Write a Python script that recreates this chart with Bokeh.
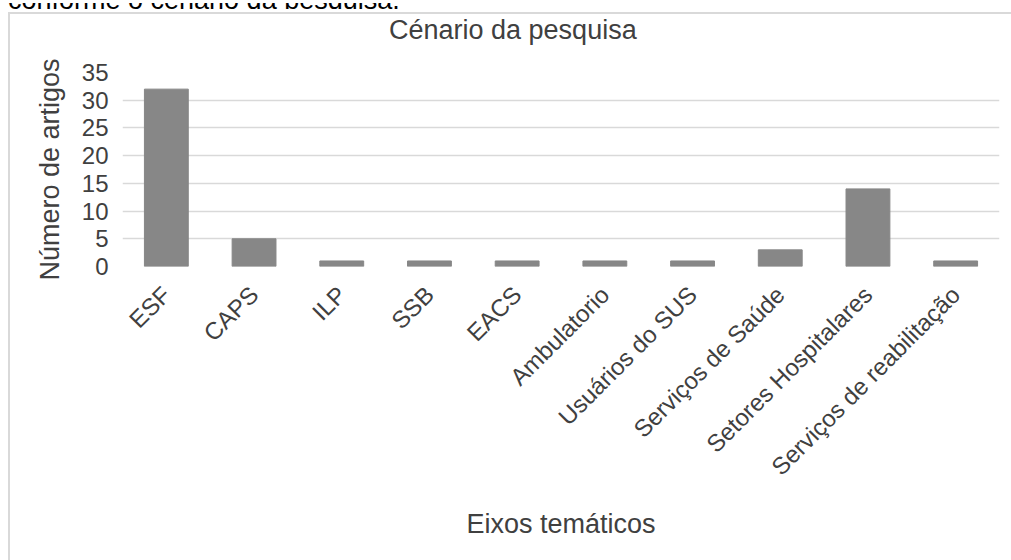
import math

from bokeh.embed import file_html
from bokeh.layouts import column
from bokeh.models import Div, FactorRange, FixedTicker, Range1d
from bokeh.plotting import figure
from bokeh.resources import INLINE

# Data: number of articles per research setting
categories = [
    "ESF",
    "CAPS",
    "ILP",
    "SSB",
    "EACS",
    "Ambulatorio",
    "Usuários do SUS",
    "Serviços de Saúde",
    "Setores Hospitalares",
    "Serviços de reabilitação",
]
artigos = [32, 5, 1, 1, 1, 1, 1, 3, 14, 1]
y_ticks = [0, 5, 10, 15, 20, 25, 30, 35]

title_text = "Cénario da pesquisa"
x_title = "Eixos temáticos"
y_title = "Número de artigos"
body_text = "conforme o cenário da pesquisa."

FONT = "Liberation Sans"
TEXT = "#404040"
GRID = "#d9d9d9"
BAR = "#878787"

# line of running text just above the chart (only its lower part shows)
body = Div(
    text=(
        f'<div style="height:9px;overflow:hidden">'
        f'<div style="transform:translateY(-16px);white-space:nowrap;font-family:\'{FONT}\';'
        f'font-size:27px;line-height:27px;color:#000;padding-left:8px">{body_text}</div></div>'
    ),
    width=1011,
    height=9,
    margin=0,
    styles={"overflow": "hidden", "height": "9px"},
)

# chart title
title_div = Div(
    text=(
        f'<div style="margin-top:8px;white-space:nowrap;font-family:\'{FONT}\';'
        f'font-size:27px;line-height:27px;color:{TEXT};padding-left:389px">{title_text}</div>'
    ),
    width=1011,
    height=42,
    margin=0,
)

p = figure(
    x_range=FactorRange(*categories),
    y_range=Range1d(0, 35),
    width=1011,
    height=509,
    min_border_left=122,
    min_border_right=12,
    min_border_top=21,
    min_border_bottom=294,
    output_backend="svg",
    toolbar_location=None,
    background_fill_color="white",
    title=None,
    margin=0,
)
p.border_fill_alpha = 0
p.outline_line_color = None

p.vbar(x=categories, top=artigos, width=0.5, fill_color=BAR, line_color=BAR)

# y axis
p.yaxis.ticker = FixedTicker(ticks=y_ticks)
p.yaxis.axis_line_color = None
p.yaxis.major_tick_line_color = None
p.yaxis.minor_tick_line_color = None
p.yaxis.major_label_standoff = 8
p.yaxis.major_label_text_font = FONT
p.yaxis.major_label_text_font_size = "24px"
p.yaxis.major_label_text_color = TEXT
p.yaxis.axis_label = y_title
p.yaxis.axis_label_text_font = FONT
p.yaxis.axis_label_text_font_size = "27px"
p.yaxis.axis_label_text_font_style = "normal"
p.yaxis.axis_label_text_color = TEXT
p.yaxis.axis_label_standoff = 14

# x axis
p.xaxis.axis_line_color = None
p.xaxis.major_tick_line_color = None
p.xaxis.major_label_orientation = math.pi / 4
p.xaxis.major_label_standoff = 18
p.xaxis.major_label_text_font = FONT
p.xaxis.major_label_text_font_size = "24px"
p.xaxis.major_label_text_color = TEXT
p.xaxis.axis_label = x_title
p.xaxis.axis_label_text_font = FONT
p.xaxis.axis_label_text_font_size = "27px"
p.xaxis.axis_label_text_font_style = "normal"
p.xaxis.axis_label_text_color = TEXT
p.xaxis.axis_label_standoff = 16

# grid
p.xgrid.grid_line_color = None
p.ygrid.ticker = FixedTicker(ticks=y_ticks)
p.ygrid.grid_line_color = GRID
p.ygrid.grid_line_width = 1.5

# chart box: light left and top edges drawn behind the title and plot
chart = column(
    title_div,
    p,
    spacing=0,
    margin=0,
    styles={
        "background": (
            f"linear-gradient({GRID},{GRID}) 8px 3px / 2px 100% no-repeat, "
            f"linear-gradient({GRID},{GRID}) 8px 3px / 100% 2px no-repeat, white"
        )
    },
)

layout = column(body, chart, spacing=0, margin=0)

open("out.html", "w").write(file_html(layout, INLINE))
